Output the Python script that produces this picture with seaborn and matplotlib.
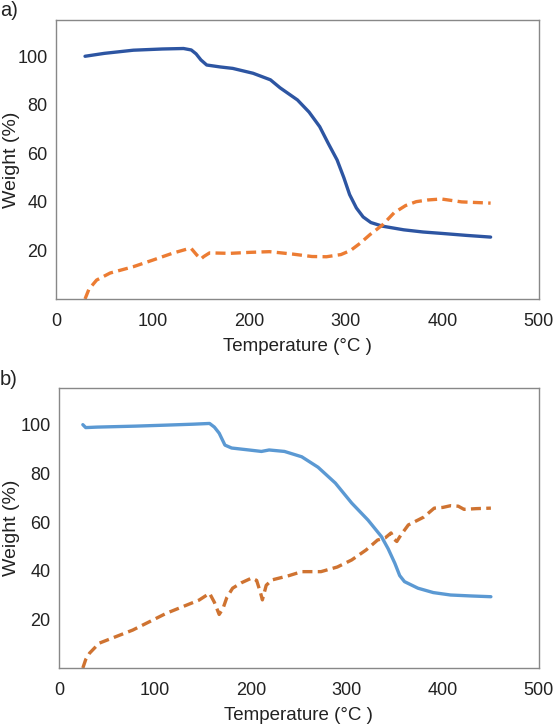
import numpy as np
import pandas as pd
import seaborn as sns
from matplotlib import pyplot as plt

# panel a) weight curves
temp_a = [30, 50, 80, 110, 132, 140, 145, 150, 156, 170, 183, 204, 222, 232, 250, 262,
          273, 282, 291, 298, 304, 311, 318, 326, 338, 360, 380, 400, 425, 450]
wt_a = [100.0, 101.2, 102.5, 103.0, 103.2, 102.6, 101.0, 98.5, 96.4, 95.6, 95.0, 93.0,
        90.3, 87.0, 82.0, 77.0, 71.0, 64.0, 57.3, 50.0, 43.0, 37.5, 33.8, 31.5,
        30.0, 28.5, 27.6, 27.0, 26.2, 25.5]
temp_a2 = [30, 34, 42, 56, 80, 100, 121, 135, 140, 146, 150, 153, 159, 180, 200, 221,
           245, 265, 280, 295, 305, 315, 325, 338, 350, 362, 373, 385, 399, 420, 450]
res_a = [0.0, 4.0, 7.8, 10.7, 13.3, 16.0, 18.9, 20.5, 20.8, 18.0, 16.5, 17.5, 19.0,
         18.8, 19.2, 19.5, 18.5, 17.5, 17.4, 18.3, 20.0, 23.0, 26.5, 30.5, 35.5, 38.5,
         40.1, 40.8, 41.2, 40.0, 39.5]

# panel b)
temp_b = [25, 28, 40, 80, 111, 140, 157, 162, 167, 173, 180, 198, 211, 219, 235, 253,
          270, 288, 305, 322, 336, 343, 350, 355, 360, 374, 390, 408, 430, 450]
wt_b = [100.0, 98.8, 99.0, 99.4, 99.8, 100.2, 100.5, 99.0, 96.5, 91.6, 90.4, 89.6,
        89.0, 89.6, 89.0, 86.8, 82.5, 76.0, 67.8, 60.8, 54.0, 49.0, 43.0, 38.0, 35.5,
        32.8, 31.0, 30.0, 29.6, 29.3]
temp_b2 = [25, 28, 32, 42, 77, 112, 146, 157, 162, 167, 171, 175, 181, 190, 201, 206,
           210, 212, 216, 222, 240, 253, 273, 290, 305, 320, 332, 340, 346, 349, 352,
           356, 364, 380, 391, 400, 408, 416, 422, 435, 450]
res_b = [0.0, 3.5, 6.1, 10.2, 15.6, 22.5, 27.9, 30.7, 27.0, 22.0, 24.5, 29.0, 32.8,
         35.0, 37.0, 36.0, 31.0, 28.0, 34.0, 36.2, 38.0, 39.6, 39.6, 41.5, 44.4, 48.5,
         52.6, 53.5, 55.5, 53.0, 52.0, 54.5, 58.8, 62.0, 65.7, 66.0, 66.7, 66.5, 65.2,
         65.5, 65.7]

panels = [
    ("a)", temp_a, wt_a, temp_a2, res_a, "#2D55A2", "#EC7C33"),
    ("b)", temp_b, wt_b, temp_b2, res_b, "#5B99D3", "#CF7331"),
]

sns.set_style("white")
plt.rcParams['font.family'] = ['Liberation Sans', 'DejaVu Sans']

fig = plt.figure(figsize=(5.55, 7.25), dpi=100)
boxes = [[0.101, 0.5876, 0.870, 0.385], [0.106, 0.0786, 0.865, 0.386]]

for (tag, t1, w1, t2, w2, c1, c2), box in zip(panels, boxes):
    ax = fig.add_axes(box)
    d1 = pd.DataFrame({"T": t1, "W": w1})
    d2 = pd.DataFrame({"T": t2, "W": w2})
    sns.lineplot(data=d1, x="T", y="W", ax=ax, color=c1, lw=2.4)
    sns.lineplot(data=d2, x="T", y="W", ax=ax, color=c2, lw=2.4,
                 dashes=False, linestyle=(0, (3.0, 1.6)))
    ax.set_xlim(0, 500)
    ax.set_ylim(0, 115)
    ax.set_xticks([0, 100, 200, 300, 400, 500])
    ax.set_yticks([20, 40, 60, 80, 100])
    ax.tick_params(direction="in", length=3, width=0.8, color="#888888",
                   labelsize=13, labelcolor="#222222")
    ax.tick_params(axis="x", pad=10)
    ax.tick_params(axis="y", pad=6)
    for s in ax.spines.values():
        s.set_color("#888888")
        s.set_linewidth(1.0)
    ax.set_xlabel("Temperature (°C )", fontsize=13.5, color="#222222", labelpad=6)
    ax.set_ylabel("Weight (%)", fontsize=14, color="#222222")
    # right edge of the rotated label sits about 20 px from the figure edge
    w_px = box[2] * 555
    left_px = box[0] * 555
    ax.yaxis.set_label_coords((20 - left_px) / w_px, 0.5)
    ax.text(-left_px / w_px, 1.032, tag, transform=ax.transAxes, fontsize=14.5,
            color="#222222", ha="left", va="center")

fig.savefig("out.png", dpi=100)
